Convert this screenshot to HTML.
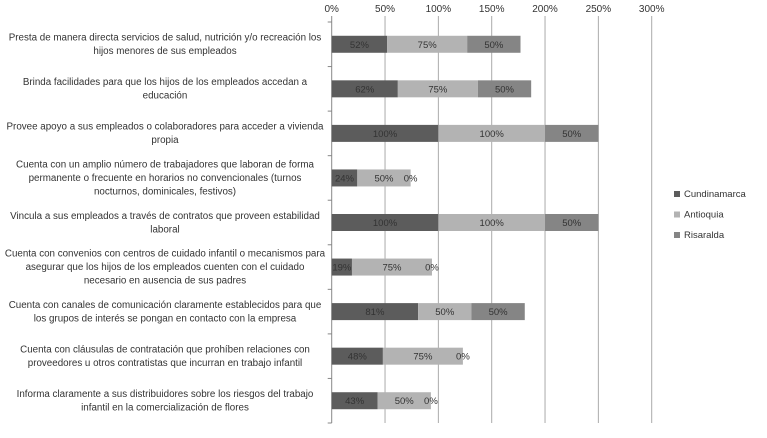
<!DOCTYPE html>
<html><head><meta charset="utf-8"><style>
body{margin:0;background:#fff;width:767px;height:433px;overflow:hidden;font-family:"Liberation Sans",sans-serif;}
svg text{font-family:"Liberation Sans",sans-serif;fill:#333;}
</style></head><body>
<svg id="chart" width="767" height="433" xmlns="http://www.w3.org/2000/svg"></svg>
<script>
const categories=[
["Presta de manera directa servicios de salud, nutrición y/o recreación los","hijos menores de sus empleados"],
["Brinda facilidades para que los hijos de los empleados accedan a","educación"],
["Provee apoyo a sus empleados o colaboradores para acceder a vivienda","propia"],
["Cuenta con un amplio número de trabajadores que laboran de forma","permanente o frecuente en horarios no convencionales (turnos","nocturnos, dominicales, festivos)"],
["Vincula a sus empleados a través de contratos que proveen estabilidad","laboral"],
["Cuenta con convenios con centros de cuidado infantil o mecanismos para","asegurar que los hijos de los empleados cuenten con el cuidado","necesario en ausencia de sus padres"],
["Cuenta con canales de comunicación claramente establecidos para que","los grupos de interés se pongan en contacto con la empresa"],
["Cuenta con cláusulas de contratación que prohíben relaciones con","proveedores u otros contratistas que incurran en trabajo infantil"],
["Informa claramente a sus distribuidores sobre los riesgos del trabajo","infantil en la comercialización de flores"]];
const cundinamarca=[52,62,100,24,100,19,81,48,43];
const antioquia=[75,75,100,50,100,75,50,75,50];
const risaralda=[50,50,50,0,50,0,50,0,0];
const seriesNames=["Cundinamarca","Antioquia","Risaralda"];
const ticks=[0,50,100,150,200,250,300];
const colors=["#5c5c5c","#b3b3b3","#858585"];
const svg=document.getElementById('chart');
const NS="http://www.w3.org/2000/svg";
const x0=331.7,x1=651.7,yTop=22,yBot=423;
const xs=v=>x0+(v/300)*(x1-x0);
const band=(yBot-yTop)/categories.length;
function mk(t,a,p){const e=document.createElementNS(NS,t);for(const k in a)e.setAttribute(k,a[k]);(p||svg).appendChild(e);return e;}
ticks.forEach(t=>{
 const g=mk('line',{x1:xs(t),x2:xs(t),y1:yTop-6,y2:yBot,stroke:t===0?'#888':'#aaa','stroke-width':1});
 
 
 const l=mk('text',{x:xs(t),y:12,'font-size':10,'text-anchor':'middle'});l.textContent=t+'%';
 
 
});
for(let i=0;i<=categories.length;i++){const y=yTop+i*band;mk('line',{x1:x0-4,x2:x0,y1:y,y2:y,stroke:'#888'});}
const all=[cundinamarca,antioquia,risaralda];
categories.forEach((lines,i)=>{
 const cy=yTop+band*(i+0.5);
 const lg=mk('text',{'font-size':9.8,'text-anchor':'middle'});
 
 
 const lh=13.5,startY=cy-(lines.length-1)*lh/2+3;
 lines.forEach((s,j)=>{const ts=mk('tspan',{x:165,y:startY+j*lh},lg);ts.textContent=s;});
 let acc=0;
 all.forEach((ser,k)=>{
  const v=ser[i];
  const r=mk('rect',{x:xs(acc),y:cy-8.5,width:xs(acc+v)-xs(acc),height:17,fill:colors[k]});
  
  
  const t=mk('text',{x:(xs(acc)+xs(acc+v))/2,y:cy+3.5,'font-size':9.5,'text-anchor':'middle'});
  t.textContent=v+'%';
  
  
  acc+=v;
 });
});
seriesNames.forEach((n,k)=>{
 const y=197+k*20.5;
 const g=mk('g',{});
 
 
 mk('rect',{x:674,y:y-6,width:6,height:6,fill:colors[k]},g);
 const t=mk('text',{x:684,y:y,'font-size':9.5},g);t.textContent=n;
});
</script>
</body></html>
